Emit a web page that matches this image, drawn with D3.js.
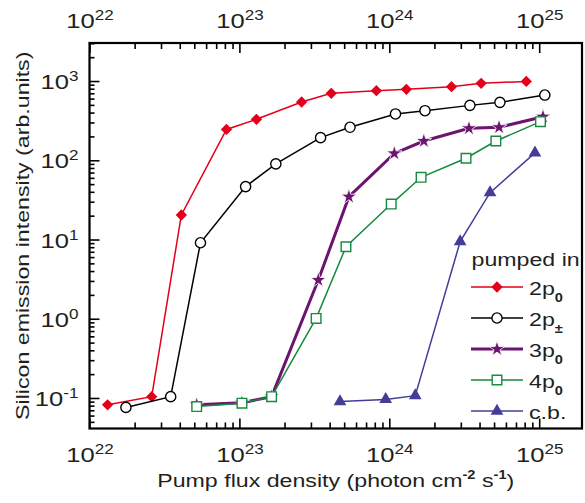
<!DOCTYPE html>
<html>
<head>
<meta charset="utf-8">
<script src="https://cdn.jsdelivr.net/npm/d3@7"></script>
<style>
  body { margin: 0; background: #fff; }
  svg text { font-family: "Liberation Sans", Arial, sans-serif; fill: #231f20; }
</style>
</head>
<body>
<div id="chart"></div>
<script>
// data (x: photon cm^-2 s^-1, y: arb. units)
const flux2p0 = [1.32e22, 2.6e22, 4.1e22, 8.2e22, 1.3e23, 2.6e23, 4.1e23, 8.2e23, 1.3e24, 2.6e24, 4.1e24, 8.2e24];
const int2p0 = [0.082, 0.104, 20.4, 245, 329, 544, 700, 755, 785, 848, 935, 990];

const flux2pm = [1.75e22, 3.48e22, 5.5e22, 1.1e23, 1.75e23, 3.48e23, 5.47e23, 1.1e24, 1.73e24, 3.45e24, 5.47e24, 1.09e25];
const int2pm = [0.076, 0.104, 9.1, 46.5, 90, 193, 261, 384, 422, 493, 538, 666];

const flux3p0 = [5.19e22, 1.04e23, 1.64e23, 3.36e23, 5.38e23, 1.08e24, 1.7e24, 3.4e24, 5.4e24, 1.06e25];
const int3p0 = [0.082, 0.087, 0.104, 3.08, 34.7, 122, 175, 253, 261, 355];

const flux4p0 = [5.19e22, 1.04e23, 1.64e23, 3.25e23, 5.14e23, 1.03e24, 1.63e24, 3.25e24, 5.14e24, 1.02e25];
const int4p0 = [0.078, 0.086, 0.104, 1.01, 8.1, 28, 61, 106, 175, 307];

const fluxCb = [4.69e23, 9.46e23, 1.49e24, 2.97e24, 4.7e24, 9.37e24];
const intCb = [0.09, 0.096, 0.107, 9.4, 39, 124];

const xMajor = [1e22, 1e23, 1e24, 1e25];
const xExp = ["22", "23", "24", "25"];
const yMajor = [0.1, 1, 10, 100, 1000];
const yExp = ["-1", "0", "1", "2", "3"];

const legendTitle = "pumped in";
const legendBase = ["2p", "2p", "3p", "4p", "c.b."];
const legendSub = ["0", "\u00b1", "0", "0", ""];

const width = 585;
const height = 503;
const margin = { left: 89.5, right: 3, top: 43, bottom: 74.5 };
const stretch = 1.22; // the lettering in the original is drawn wider than the font

const series = [
  { flux: flux2p0, val: int2p0, color: "#e2001a", sym: "diamond", lw: 1.5 },
  { flux: flux2pm, val: int2pm, color: "#000000", sym: "circle", lw: 1.5 },
  { flux: flux3p0, val: int3p0, color: "#6b1470", sym: "star", lw: 3 },
  { flux: flux4p0, val: int4p0, color: "#168a3e", sym: "square", lw: 1.5 },
  { flux: fluxCb, val: intCb, color: "#443d98", sym: "triangle", lw: 1.5 }
];

//------------------------------------------------------------------ scales
const x = d3.scaleLog()
  .domain([1e22, 1.93e25])
  .range([margin.left, width - margin.right]);

const y = d3.scaleLog()
  .domain([0.0412, 3020])
  .range([height - margin.bottom, margin.top]);

const svg = d3.select("#chart").append("svg")
  .attr("width", width)
  .attr("height", height);

svg.append("rect").attr("width", width).attr("height", height).attr("fill", "#fff");

//------------------------------------------------------------------ symbols
let symbolPath = (type) => {
  if (type === "diamond") return d3.symbol(d3.symbolSquare, 64)();
  if (type === "circle") return d3.symbol(d3.symbolCircle, 82)();
  if (type === "star") return d3.symbol(d3.symbolStar, 75)();
  if (type === "square") return d3.symbol(d3.symbolSquare, 92)();
  return d3.symbol(d3.symbolTriangle, 70)();
};

let drawMarker = (g, s, px, py) => {
  let p = g.append("path")
    .attr("d", symbolPath(s.sym))
    .attr("transform", "translate(" + px + "," + py + ")" + (s.sym === "diamond" ? " rotate(45)" : ""));
  if (s.sym === "circle" || s.sym === "square") {
    p.attr("fill", "#fff").attr("stroke", s.color).attr("stroke-width", 1.4);
  } else if (s.sym === "star") {
    p.attr("fill", s.color).attr("stroke", "#fff").attr("stroke-width", 0.8);
  } else {
    p.attr("fill", s.color);
  }
};

//------------------------------------------------------------------ lines + markers
const line = d3.line()
  .x(d => x(d[0]))
  .y(d => y(d[1]));

series.forEach(s => {
  const pts = s.flux.map((f, i) => [f, s.val[i]]);
  const g = svg.append("g");
  g.append("path")
    .attr("d", line(pts))
    .attr("fill", "none")
    .attr("stroke", s.color)
    .attr("stroke-width", s.lw);
  pts.forEach(p => drawMarker(g, s, x(p[0]), y(p[1])));
});

//------------------------------------------------------------------ axes
const xMinor = x.ticks().filter(v => xMajor.indexOf(v) < 0);
const yMinor = y.ticks().filter(v => yMajor.every(m => Math.abs(m - v) / v > 1e-6));

let supLabels = (sel, exps) => {
  sel.selectAll(".tick text").each(function(d, i) {
    const t = d3.select(this);
    t.text("10").attr("font-size", 21).attr("transform", "scale(" + stretch + ",1)");
    t.append("tspan").attr("font-size", 14).attr("dy", -8).text(exps[i]);
  });
};

const yBottom = height - margin.bottom;

// bottom
svg.append("g")
  .attr("transform", "translate(0," + yBottom + ")")
  .call(d3.axisBottom(x).tickValues(xMinor).tickSize(-6).tickFormat(""));
const gxb = svg.append("g")
  .attr("transform", "translate(0," + yBottom + ")")
  .call(d3.axisBottom(x).tickValues(xMajor).tickSize(-10).tickPadding(18.5));
supLabels(gxb, xExp);

// top
svg.append("g")
  .attr("transform", "translate(0," + margin.top + ")")
  .call(d3.axisTop(x).tickValues(xMinor).tickSize(-6).tickFormat(""));
const gxt = svg.append("g")
  .attr("transform", "translate(0," + margin.top + ")")
  .call(d3.axisTop(x).tickValues(xMajor).tickSize(-10).tickPadding(15));
supLabels(gxt, xExp);

// left
svg.append("g")
  .attr("transform", "translate(" + margin.left + ",0)")
  .call(d3.axisLeft(y).tickValues(yMinor).tickSize(-5).tickFormat(""));
const gy = svg.append("g")
  .attr("transform", "translate(" + margin.left + ",0)")
  .call(d3.axisLeft(y).tickValues(yMajor).tickSize(-10).tickPadding(9));
supLabels(gy, yExp);
gy.selectAll(".tick text").attr("dy", "0.36em");

svg.selectAll(".domain").remove();
svg.selectAll(".tick line").attr("stroke", "#000").attr("stroke-width", 1.6);

// frame
svg.append("rect")
  .attr("x", margin.left)
  .attr("y", margin.top)
  .attr("width", width - margin.right - margin.left)
  .attr("height", yBottom - margin.top)
  .attr("fill", "none")
  .attr("stroke", "#000")
  .attr("stroke-width", 2.2);

//------------------------------------------------------------------ titles
const xt = svg.append("text")
  .attr("transform", "translate(" + ((margin.left + width - margin.right) / 2) + ",487) scale(" + stretch + ",1)")
  .attr("text-anchor", "middle")
  .attr("font-size", 19);
xt.append("tspan").text("Pump flux density (photon cm");
xt.append("tspan").attr("font-size", 12).attr("font-weight", "bold").attr("dy", -8).text("-2");
xt.append("tspan").attr("dy", 8).text(" s");
xt.append("tspan").attr("font-size", 12).attr("font-weight", "bold").attr("dy", -8).text("-1");
xt.append("tspan").attr("dy", 8).text(")");

svg.append("text")
  .attr("transform", "translate(29," + ((margin.top + yBottom) / 2) + ") rotate(-90) scale(" + stretch + ",1)")
  .attr("text-anchor", "middle")
  .attr("font-size", 19)
  .text("Silicon emission intensity (arb.units)");

//------------------------------------------------------------------ legend
const lg = svg.append("g");
lg.append("text")
  .attr("transform", "translate(471.5,266) scale(" + stretch + ",1)")
  .attr("font-size", 19)
  .text(legendTitle);

series.forEach((s, i) => {
  const ly = 287 + i * 31;
  lg.append("line")
    .attr("x1", 471).attr("x2", 523)
    .attr("y1", ly).attr("y2", ly)
    .attr("stroke", s.color)
    .attr("stroke-width", s.lw === 3 ? 3 : 1.5);
  drawMarker(lg, s, 497, ly);
  const t = lg.append("text")
    .attr("transform", "translate(529," + (ly + 8) + ") scale(" + stretch + ",1)")
    .attr("font-size", 19);
  t.append("tspan").text(legendBase[i]);
  if (legendSub[i]) {
    t.append("tspan").attr("font-size", 12).attr("font-weight", "bold").attr("dy", 7).text(legendSub[i]);
  }
});
</script>
</body>
</html>
